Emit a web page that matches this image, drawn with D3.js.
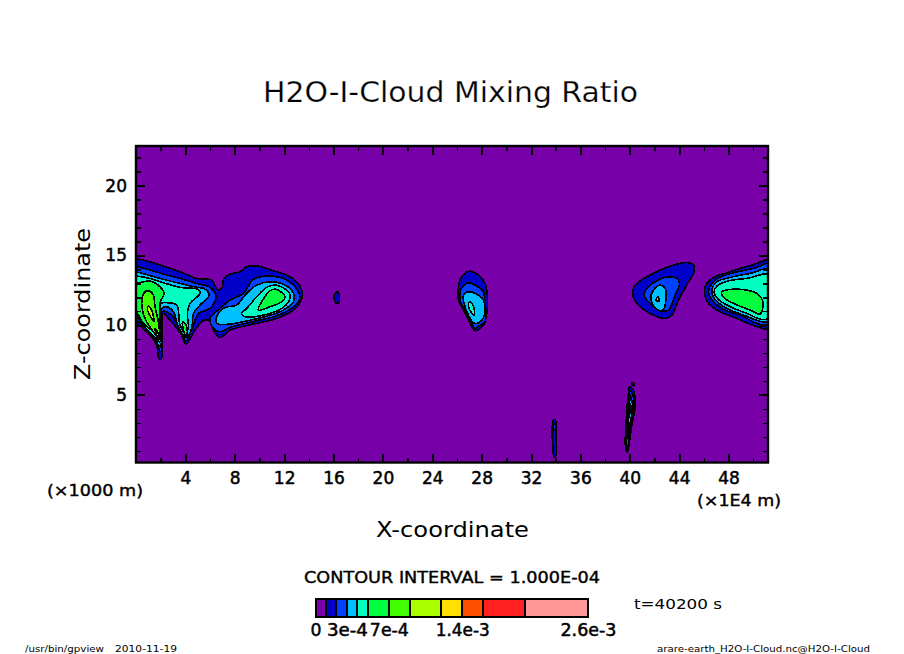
<!DOCTYPE html>
<html>
<head>
<meta charset="utf-8">
<script src="https://cdn.jsdelivr.net/npm/d3@7"></script>
<style>
  html, body { margin: 0; padding: 0; background: #fff; }
  svg { display: block; }
  text { font-family: "DejaVu Sans", sans-serif; fill: #000; }
</style>
</head>
<body>
<div id="chart"></div>
<script>
// values: x in 1e4 m, z in 1000 m, contour levels in kg/kg
const xMajor = [4, 8, 12, 16, 20, 24, 28, 32, 36, 40, 44, 48];
const xMinor = [2, 6, 10, 14, 18, 22, 26, 30, 34, 38, 42, 46, 50];
const zMajor = [5, 10, 15, 20];
const zMinor = [1, 2, 3, 4, 6, 7, 8, 9, 11, 12, 13, 14, 16, 17, 18, 19, 21, 22];

const levels = [0, 1e-4, 2e-4, 3e-4, 4e-4, 5e-4, 7e-4, 9e-4, 12e-4, 14e-4, 16e-4, 20e-4, 26e-4];
const levelColors = ["#7800a8", "#0000c8", "#0040ff", "#00c0ff", "#00ffc0", "#00ff40", "#40ff00",
  "#aaff00", "#ffe000", "#ff5000", "#ff2020", "#ff9999"];
const legendTicks = [0, 3e-4, 7e-4, 14e-4, 26e-4];
const legendLabels = ["0", "3e-4", "7e-4", "1.4e-3", "2.6e-3"];

// isolines, one list per level
const iso1 = [
  [[-0.2,14.78],[0,14.78],[1.13,14.54],[2.22,14.24],[3.57,13.83],[4.92,13.35],[6.13,13.23],[6.59,12.56],[6.94,12.63],[7.13,13.35],[7.62,13.66],[8.43,13.83],[8.97,14.19],[9.91,14.23],[11.13,13.9],[12.21,13.59],[13.02,13.11],[13.43,12.51],[13.43,11.92],[12.75,11.08],[11.4,10.48],[9.78,10.13],[7.62,9.65],[6.81,9.12],[6.27,9.65],[5.94,10.32],[5.46,10.32],[4.78,9.65],[4.05,8.65],[3.7,9.29],[2.76,10.36],[2.18,10.84],[2.12,10.6],[2.05,7.55],[1.86,7.6],[1.66,8.57],[0.86,9.53],[0,10.08],[-0.2,10.08]],
  [[16.13,12.3],[16.37,12.37],[16.49,11.94],[16.41,11.58],[16.21,11.58],[16.05,11.94]],
  [[27.01,13.87],[27.74,13.59],[28.28,12.99],[28.47,12.04],[28.42,10.84],[28.15,10],[27.47,9.6],[27.07,10.12],[26.53,11.08],[26.12,11.8],[26.12,12.75],[26.39,13.47]],
  [[33.82,3.2],[33.98,3.2],[34.01,2.36],[34.04,0.69],[33.87,0.53],[33.77,1.29],[33.71,2.36]],
  [[39.98,5.59],[40.3,5.35],[40.44,4.15],[40.17,2.84],[39.98,1.65],[39.81,0.89],[39.65,1.29],[39.71,3.08],[39.81,4.4],[39.89,5.11]],
  [[40.22,5.9],[40.35,5.83],[40.3,5.66],[40.19,5.71]],
  [[44.63,14.49],[45.17,14.3],[45.22,13.83],[44.76,13.11],[43.95,11.8],[43.41,10.72],[42.87,10.48],[41.92,10.72],[40.84,11.32],[40.25,12.16],[40.44,12.87],[41.38,13.47],[42.46,13.95],[43.54,14.3]],
  [[51.4,14.66],[50.16,14.38],[48.95,14.07],[47.86,13.76],[46.92,13.47],[46.24,12.99],[46.05,12.39],[46.38,11.56],[47.33,10.96],[48.68,10.48],[50.3,9.89],[51.4,9.77]]
];
const iso2 = [
  [[-0.2,14.19],[0,14.19],[1.13,13.95],[2.22,13.66],[3.57,13.35],[4.92,12.99],[6,12.71],[6.48,12.04],[6,11.2],[5.05,10.84],[4.51,9.65],[4.05,8.88],[3.57,9.65],[2.89,10.72],[2.1,10.96],[2,8.1],[1.54,8.93],[0.86,9.69],[0,10.37],[-0.2,10.37]],
  [[6,10.48],[6.81,11.2],[7.62,11.8],[8.7,12.28],[9.51,13.28],[10.86,13.52],[12.21,13.23],[13.16,12.39],[13.24,11.8],[12.48,11.13],[11.13,10.6],[9.78,10.32],[7.62,9.84],[6.81,9.53],[6.27,9.77]],
  [[27.01,13.04],[27.61,12.8],[28.15,12.39],[28.23,11.56],[28.28,10.25],[27.88,10.01],[27.47,9.77],[27.07,10.37],[26.58,11.2],[26.26,11.8],[26.31,12.51],[26.66,12.94]],
  [[33.87,2.92],[33.95,2.92],[33.95,2.49],[33.87,2.49]],
  [[40,5.3],[40.2,5.1],[40.34,4.15],[40.07,2.84],[39.92,1.65],[39.81,1.1],[39.75,1.4],[39.81,3.08],[39.91,4.4]],
  [[42.87,13.42],[43.81,13.35],[44.03,12.99],[43.68,12.16],[43.14,11.08],[42.6,11.03],[41.79,11.44],[41.17,12.16],[41.38,12.63],[42.19,13.18]],
  [[51.4,14.38],[50.03,14.07],[48.41,13.76],[47.33,13.47],[46.65,12.99],[46.38,12.39],[46.79,11.68],[47.73,11.08],[48.95,10.72],[50.3,10.13],[51.4,10.08]]
];
const iso3 = [
  [[-0.2,13.82],[0,13.82],[2.22,13.28],[3.57,12.99],[4.92,12.71],[5.51,12.63],[5.92,12.16],[5.19,11.44],[4.65,10.84],[4.51,9.77],[4.05,9.12],[3.43,9.89],[3.03,10.96],[2.49,11.32],[2.08,11.2],[1.98,8.46],[1.46,9.05],[0.73,9.84],[0,10.6],[-0.2,10.6]],
  [[6.48,10.25],[6.67,10.84],[7.21,11.27],[8.16,11.44],[8.83,12.16],[9.78,12.87],[10.86,13.11],[12.07,12.87],[12.75,12.28],[12.75,11.68],[11.94,11.08],[10.86,10.72],[9.51,10.41],[7.62,10.08],[6.67,10.08]],
  [[26.93,12.39],[27.47,12.28],[28.15,11.8],[28.23,10.72],[27.74,10.17],[27.34,10.17],[26.93,10.72],[26.58,11.56],[26.53,12.16]],
  [[40.05,5],[40.12,4.8],[40.24,4.15],[40,2.84],[39.88,1.85],[39.84,2.1],[39.9,3.08],[39.98,4.3]],
  [[42.46,12.87],[42.87,12.63],[42.95,12.16],[42.68,11.08],[42.19,11.13],[41.71,11.84],[41.92,12.51]],
  [[51.4,14],[49.76,13.71],[48.14,13.42],[47.06,13.11],[46.65,12.51],[46.92,11.84],[47.86,11.2],[49.22,10.72],[50.71,10.25],[51.4,10.32]]
];
const iso4 = [
  [[-0.2,13.52],[0,13.52],[1.13,13.35],[2.22,13.04],[3.57,12.71],[5.05,12.56],[5.19,12.28],[4.38,11.56],[4.16,10.84],[4.24,9.89],[4.05,9.41],[3.57,10.01],[3.3,11.44],[2.49,11.61],[2.04,11.56],[1.94,8.81],[1.4,9.22],[0.59,10.01],[0,10.84],[-0.2,10.84]],
  [[8.56,10.84],[8.97,11.2],[9.78,12.04],[10.59,12.71],[11.4,12.87],[12.43,12.28],[12.43,11.8],[11.8,11.2],[10.32,10.72],[8.83,10.6]],
  [[27.07,11.68],[27.34,11.32],[27.42,10.72],[27.12,10.96],[26.93,11.44]],
  [[40.06,4.4],[40.1,4.1],[40.05,3.7],[40.02,3.7],[40.04,4.1]],
  [[42.25,12.04],[42.41,11.75],[42.14,11.75]],
  [[51.4,13.59],[49.49,13.35],[48,13.18],[47.06,12.8],[46.84,12.39],[47.19,11.84],[48.14,11.32],[49.49,10.84],[50.71,10.41],[51.4,10.56]]
];
const iso5 = [
  [[-0.2,12.99],[0,12.99],[1.13,13.16],[1.94,12.75],[2.27,12.28],[1.95,11.61],[1.89,9.05],[1.4,9.53],[0.59,10.13],[0,10.96],[-0.2,10.96]],
  [[3.78,10.25],[4.05,10.01],[4.16,9.53],[4.05,9.22],[3.84,9.65]],
  [[9.91,11.08],[10.18,11.68],[10.86,12.47],[11.4,12.56],[12.07,12.04],[11.8,11.68],[10.86,11.32]],
  [[47.46,12.39],[48.14,12.56],[49.49,12.51],[50.3,12.27],[50.78,11.68],[50.57,10.8],[49.76,11.08],[48.41,11.56],[47.6,11.99]]
];
const iso7 = [
  [[1,12.47],[1.4,12.16],[1.54,11.32],[1.81,10.25],[1.89,8.98],[1.4,9.53],[0.86,10.25],[0.59,10.84],[0.46,11.56],[0.65,12.32]]
];
const iso9 = [
  [[1,11.37],[1.27,11.08],[1.46,10.25],[1.19,10.6],[0.92,11.13]],
  [[1.54,9.77],[1.81,9.41],[1.86,8.98],[1.62,9.41]]
];
const isoLists = [[1e-4, iso1], [2e-4, iso2], [3e-4, iso3], [4e-4, iso4], [5e-4, iso5], [7e-4, iso7], [9e-4, iso9]];

const width = 904, height = 654;
const svg = d3.select("#chart").append("svg").attr("width", width).attr("height", height);

const x = d3.scaleLinear().domain([0, 51.2]).range([136, 768]);
const z = d3.scaleLinear().domain([0.16, 22.84]).range([462.5, 146]);
const fillColor = d3.scaleThreshold().domain(levels.slice(1, -1)).range(levelColors);

svg.append("clipPath").attr("id", "plot").append("rect")
  .attr("x", 136).attr("y", 146).attr("width", 632).attr("height", 316.5);

const plot = svg.append("g").attr("clip-path", "url(#plot)");
plot.append("rect").attr("x", 136).attr("y", 146).attr("width", 632).attr("height", 316.5)
  .attr("fill", levelColors[0]);

const line = d3.line().x(d => x(d[0])).y(d => z(d[1])).curve(d3.curveCatmullRomClosed.alpha(0.5));

isoLists.forEach(([level, loops]) => {
  plot.selectAll(null).data(loops).join("path")
    .attr("d", line)
    .attr("fill", fillColor(level))
    .attr("stroke", "#000")
    .attr("stroke-width", 1.6)
    .attr("shape-rendering", "crispEdges");
});

// axes, ticks point into the frame
function drawAxis(axisFn, scale, values, size, pos, labels) {
  const axis = axisFn(scale).tickValues(values).tickSize(-size).tickSizeOuter(0);
  if (labels) axis.tickPadding(9).tickFormat(d3.format("d"));
  else axis.tickFormat("");
  const g = svg.append("g").attr("transform", pos).call(axis);
  g.select(".domain").remove();
  g.selectAll("line").attr("stroke", "#000").attr("stroke-width", size > 5 ? 2 : 1.5)
    .attr("shape-rendering", "crispEdges");
  g.selectAll("text").attr("font-size", 17).attr("font-family", "DejaVu Sans")
    .attr("stroke", "#000").attr("stroke-width", 0.5);
  return g;
}
drawAxis(d3.axisBottom, x, xMajor, 9, "translate(0,462.5)", true);
drawAxis(d3.axisBottom, x, xMinor, 5, "translate(0,462.5)", false);
drawAxis(d3.axisTop, x, xMajor, 9, "translate(0,146)", false);
drawAxis(d3.axisTop, x, xMinor, 5, "translate(0,146)", false);
drawAxis(d3.axisLeft, z, zMajor, 9, "translate(136,0)", true);
drawAxis(d3.axisLeft, z, zMinor, 5, "translate(136,0)", false);
drawAxis(d3.axisRight, z, zMajor, 9, "translate(768,0)", false);
drawAxis(d3.axisRight, z, zMinor, 5, "translate(768,0)", false);

svg.append("rect").attr("x", 136).attr("y", 146).attr("width", 632).attr("height", 316.5)
  .attr("fill", "none").attr("stroke", "#000").attr("stroke-width", 2.4);

function label(px, py, str, size, len, heavy) {
  return svg.append("text").attr("x", px).attr("y", py).attr("font-size", size)
    .attr("textLength", len).attr("lengthAdjust", "spacingAndGlyphs")
    .attr("stroke", heavy ? "#000" : "none").attr("stroke-width", heavy ? 0.4 : 0)
    .text(str);
}
// title is drawn thin in the reference, a white halo slims the glyphs
label(263, 102, "H2O-I-Cloud Mixing Ratio", 29, 375).attr("stroke", "#fff").attr("stroke-width", 0.25);
label(376, 537, "X-coordinate", 22, 153);
svg.append("text").attr("transform", "translate(90,380) rotate(-90)")
  .attr("font-size", 22).attr("textLength", 152).attr("lengthAdjust", "spacingAndGlyphs")
  .text("Z-coordinate");
label(47, 496, "(×1000 m)", 15.5, 96, true);
label(697, 506, "(×1E4 m)", 15.5, 84, true);
label(304, 583, "CONTOUR INTERVAL = 1.000E-04", 15.5, 296, true);
label(634, 609, "t=40200 s", 14.5, 88);
label(25, 652, "/usr/bin/gpview", 9, 79);
label(115, 652, "2010-11-19", 9, 62);
label(657, 652, "arare-earth_H2O-I-Cloud.nc@H2O-I-Cloud", 9, 213);

// legend bar
const legendX = d3.scaleLinear().domain([0, 26e-4]).range([315.5, 588]);
const legend = svg.append("g");
legend.selectAll("rect").data(levelColors).join("rect")
  .attr("x", (d, i) => legendX(levels[i]))
  .attr("y", 599)
  .attr("width", (d, i) => legendX(levels[i + 1]) - legendX(levels[i]))
  .attr("height", 18)
  .attr("fill", d => d)
  .attr("stroke", "#000")
  .attr("stroke-width", 2)
  .attr("shape-rendering", "crispEdges");
const legendAxis = d3.axisBottom(legendX).tickValues(legendTicks).tickSize(0).tickPadding(7)
  .tickFormat((d, i) => legendLabels[i]);
const legendG = svg.append("g").attr("transform", "translate(0,617)").call(legendAxis);
legendG.select(".domain").remove();
const legendLabelWidths = [11, 41, 39, 54, 56];
legendG.selectAll("text").attr("font-size", 17).attr("font-family", "DejaVu Sans")
  .attr("stroke", "#000").attr("stroke-width", 0.5)
  .attr("textLength", (d, i) => legendLabelWidths[i]).attr("lengthAdjust", "spacingAndGlyphs");
</script>
</body>
</html>
